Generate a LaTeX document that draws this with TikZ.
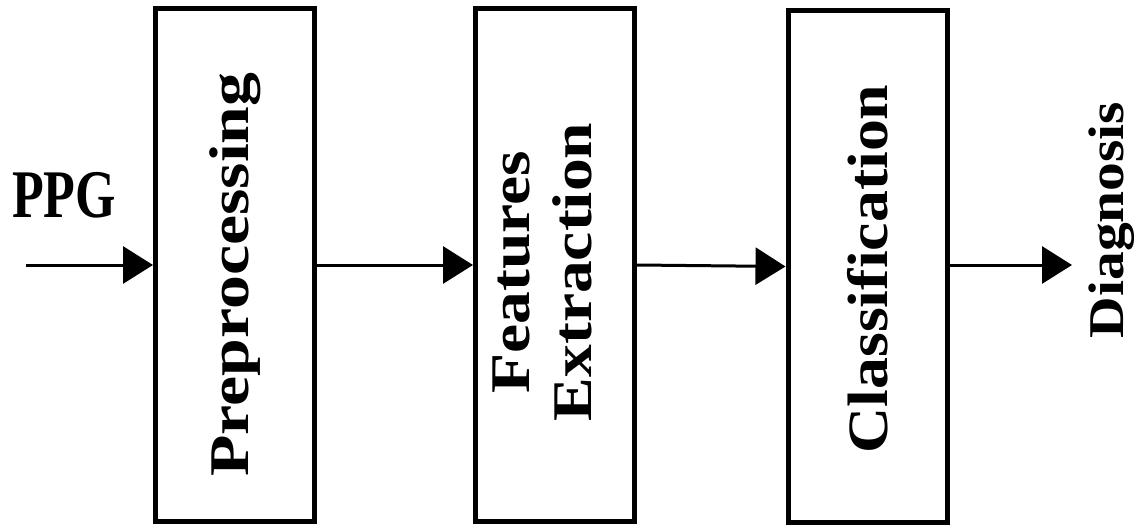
\documentclass[tikz,border=0pt]{standalone}
\usepackage{fontspec}
\setmainfont{Liberation Serif}
\usetikzlibrary{arrows.meta}

\begin{document}
\begin{tikzpicture}[x=1pt, y=-1pt,
    blk/.style={draw, line width=5pt, minimum width=159pt, minimum height=512pt, inner sep=0pt},
    lbl/.style={inner sep=0pt, font=\bfseries\fontsize{#1}{62}\selectfont},
    flow/.style={line width=3pt, -{Triangle[length=30pt,width=37pt]}}]
        \useasboundingbox (0,0) rectangle (1140,527);

        % blocks
        \node[blk] (pre) at (235,265) {};
        \node[blk] (feat) at (555,265) {};
        \node[blk] (cls) at (867.5,266.5) {};

        % block texts
        \node[lbl=56, yscale=1.21, rotate=90, anchor=base] (pretxt) at (248,274.5) {Preprocessing};
        \node[lbl=56, yscale=1.17, rotate=90, align=center] (feattxt) at (542.5,272) {Features\\Extraction};
        \node[lbl=57, yscale=1.12, rotate=90, anchor=base] (clstxt) at (887,269) {Classification};

        % input and output
        \node[lbl=52, yscale=1.31, anchor=base] (ppg) at (64,217) {PPG};
        \node[lbl=50, yscale=1.15, rotate=90, anchor=base] (diag) at (1123,220) {Diagnosis};
        \coordinate (in) at (26,265);
        \coordinate (out) at (1072,265);

        % arrows
        \draw[flow] (in) -- (in -| pre.west);
        \draw[flow] (pre.east) -- (feat.west);
        \draw[flow] (feat.east) -- (cls.west);
        \draw[flow] (out -| cls.east) -- (out);

      \end{tikzpicture}
\end{document}
